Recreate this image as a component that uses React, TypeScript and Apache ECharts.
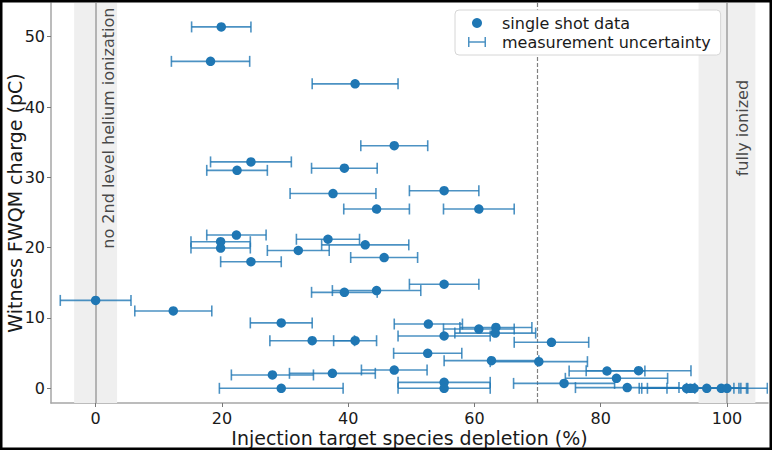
import React, { useEffect, useRef } from "react";
import * as echarts from "echarts";

// Injection target species depletion (%) per shot
const depletion = [
  19.9, 18.2, 41.1, 47.3, 24.6, 22.4, 39.4, 37.6, 55.2, 44.5, 60.7,
  22.3, 19.8, 19.8, 24.6, 32.1, 36.8, 42.7, 45.7, 0.0, 12.3, 39.4, 44.5,
  29.4, 34.3, 41.1, 28.0, 37.5, 29.4, 47.3, 55.2, 52.7, 60.7, 63.4, 63.3,
  55.2, 72.2, 52.6, 62.7, 70.2, 55.2, 55.2, 74.2, 81.0, 86.0, 82.5, 84.2,
  93.6, 94.2, 94.8, 96.8, 99.1, 100.0,
];
// Witness FWQM charge (pC) per shot
const charge = [
  51.4, 46.5, 43.3, 34.5, 32.2, 31.0, 31.3, 27.7, 28.1, 25.5, 25.5,
  21.8, 20.85, 19.95, 18.0, 19.6, 21.2, 20.4, 18.6, 12.5, 11.0, 13.65, 13.9,
  9.3, 6.77, 6.77, 1.9, 2.13, 0.0, 2.6, 14.8, 9.14, 8.43, 8.65, 7.85,
  7.44, 6.54, 4.98, 3.93, 3.79, 0.85, 0.0, 0.7, 2.46, 2.5, 1.42, 0.1,
  0.0, 0.0, 0.0, 0.0, 0.0, 0.0,
];
// Half-width of the depletion measurement uncertainty (%)
const uncertainty = [
  4.7, 6.2, 6.8, 5.3, 6.4, 4.8, 5.2, 6.8, 5.5, 5.2, 5.6,
  4.7, 4.7, 4.7, 4.8, 4.9, 5.0, 6.9, 5.3, 5.6, 6.1, 5.2, 7.0,
  4.9, 6.7, 3.4, 6.5, 6.8, 9.8, 5.2, 5.5, 5.4, 5.6, 5.7, 6.4,
  7.3, 5.9, 5.4, 7.5, 7.7, 7.3, 7.3, 8.0, 6.0, 8.3, 8.1, 8.2,
  7.5, 7.7, 7.4, 6.3, 4.2, 6.4,
];

const xTicks = [0, 20, 40, 60, 80, 100];
const yTicks = [0, 10, 20, 30, 40, 50];
const shadedBands = [
  [-3.4, 3.4],
  [95.5, 104.5],
];
const solidLines = [0, 100];
const dashedLines = [70];
const annotationTexts = ["no 2nd level helium ionization", "fully ionized"];
const seriesNames = ["single shot data", "measurement uncertainty"];

const FONT = "DejaVu Sans";
const BLUE = "#1f77b4";
const BAR = "rgba(31,119,180,0.8)";

export default function App() {
  const ref = useRef<HTMLDivElement>(null);

  useEffect(() => {
    document.body.style.margin = "0";
    const chart = echarts.init(ref.current as HTMLDivElement, null, { renderer: "svg" });

    const points = depletion.map((x, i) => [x, charge[i]]);
    const bars = depletion.map((x, i) => [x, charge[i], x - uncertainty[i], x + uncertainty[i]]);

    const option: any = {
      animation: false,
      textStyle: { fontFamily: FONT },
      grid: { left: 51, right: 4, top: 3, bottom: 47, containLabel: false, outerBoundsMode: "none" },
      xAxis: {
        type: "value",
        min: -7.07,
        max: 106.5,
        name: "Injection target species depletion (%)",
        nameLocation: "middle",
        nameGap: 25,
        nameMoveOverlap: false,
        nameTextStyle: { fontSize: 19, color: "#1a1a1a", fontFamily: FONT },
        splitLine: { show: false },
        axisLine: { onZero: false, lineStyle: { color: "#a6a6a6", width: 1.5 } },
        axisTick: { show: true, length: 4, customValues: xTicks, lineStyle: { color: "#777", width: 1 } },
        axisLabel: { customValues: xTicks, fontSize: 16, color: "#1a1a1a", margin: 7, fontFamily: FONT },
      },
      yAxis: {
        type: "value",
        min: -2.09,
        max: 54.8,
        name: "Witness FWQM charge (pC)",
        nameLocation: "middle",
        nameGap: 27,
        nameMoveOverlap: false,
        nameTextStyle: { fontSize: 19, color: "#1a1a1a", fontFamily: FONT },
        splitLine: { show: false },
        axisLine: { show: true, onZero: false, lineStyle: { color: "#a6a6a6", width: 1.5 } },
        axisTick: { show: true, length: 4, customValues: yTicks, lineStyle: { color: "#777", width: 1 } },
        axisLabel: { customValues: yTicks, fontSize: 16, color: "#1a1a1a", margin: 6, fontFamily: FONT },
      },
      legend: {
        orient: "vertical",
        left: 455,
        top: 10,
        backgroundColor: "#fff",
        borderColor: "#d6d6d6",
        borderWidth: 1,
        borderRadius: 4,
        padding: [5, 10, 5, 13],
        itemGap: 3,
        itemWidth: 18,
        itemHeight: 10,
        textStyle: { fontSize: 16, color: "#1a1a1a", fontFamily: FONT, padding: [0, 0, 0, 11] },
        data: [
          { name: seriesNames[0], icon: "circle", itemStyle: { color: BLUE } },
          {
            name: seriesNames[1],
            icon: "path://M0,0h1.5v10h-1.5z M0,4.2h18v1.6h-18z M16.5,0h1.5v10h-1.5z",
            itemStyle: { color: BAR },
          },
        ],
      },
      graphic: [
        {
          type: "rect",
          shape: { x: 0, y: 0, width: 772, height: 450 },
          style: { fill: "none", stroke: "#000", lineWidth: 5 },
          silent: true,
          z: 100,
        },
      ],
      series: [
        {
          type: "scatter",
          name: "annotations",
          z: 2,
          silent: true,
          symbolSize: 0,
          data: [
            { value: [2.1, 37], name: annotationTexts[0] },
            { value: [102.5, 37], name: annotationTexts[1] },
          ],
          label: {
            show: true,
            position: "inside",
            formatter: "{b}",
            rotate: 90,
            fontSize: 16,
            color: "#1a1a1a",
            fontFamily: FONT,
          },
          markArea: {
            silent: true,
            z: 1,
            itemStyle: { color: "#efefef", opacity: 1 },
            data: shadedBands.map((b) => [{ xAxis: b[0] }, { xAxis: b[1] }]),
          },
          markLine: {
            silent: true,
            z: 2,
            symbol: ["none", "none"],
            label: { show: false },
            data: [
              ...solidLines.map((v) => ({ xAxis: v, lineStyle: { color: "#b3b3b3", width: 2, type: "solid" } })),
              ...dashedLines.map((v) => ({ xAxis: v, lineStyle: { color: "#808080", width: 1.2, type: [4, 2] } })),
            ],
          },
        },
        {
          type: "custom",
          name: seriesNames[1],
          z: 3,
          clip: true,
          itemStyle: { color: BAR },
          data: bars,
          encode: { x: [0, 2, 3], y: 1 },
          renderItem: (params: any, api: any) => {
            const y = api.value(1);
            const lo = api.coord([api.value(2), y]);
            const hi = api.coord([api.value(3), y]);
            const cap = 5.5;
            const style = { stroke: BAR, lineWidth: 1.6, fill: "none" };
            return {
              type: "group",
              children: [
                { type: "line", shape: { x1: lo[0], y1: lo[1], x2: hi[0], y2: hi[1] }, style },
                { type: "line", shape: { x1: lo[0], y1: lo[1] - cap, x2: lo[0], y2: lo[1] + cap }, style },
                { type: "line", shape: { x1: hi[0], y1: hi[1] - cap, x2: hi[0], y2: hi[1] + cap }, style },
              ],
            };
          },
        },
        {
          type: "scatter",
          name: seriesNames[0],
          z: 4,
          symbol: "circle",
          symbolSize: 9.5,
          itemStyle: { color: BLUE, opacity: 1 },
          data: points,
        },
      ],
    };

    chart.setOption(option);
    return () => chart.dispose();
  }, []);

  return <div ref={ref} style={{ width: 772, height: 450 }} />;
}
